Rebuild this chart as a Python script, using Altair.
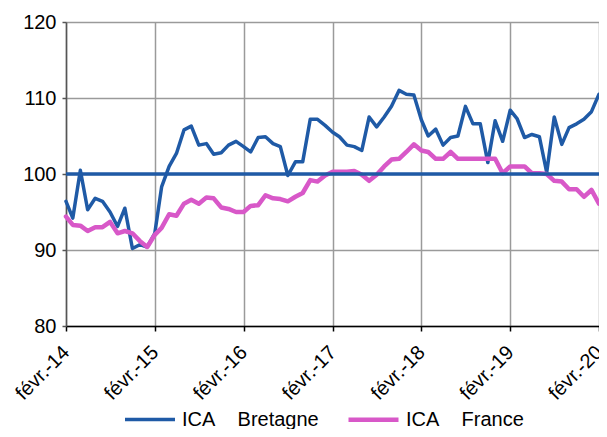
import altair as alt
import pandas as pd

# Monthly index values, Feb 2014 -> Feb 2020
start_month = "2014-02-01"
n_months = 73

bretagne = [96.4, 94.2, 100.5, 95.3, 96.8, 96.4, 95.0, 93.1, 95.5, 90.2, 90.7, 90.4,
            92.2, 98.3, 101.0, 102.7, 105.8, 106.3, 103.8, 104.0, 102.6, 102.8, 103.8, 104.3,
            103.6, 102.9, 104.8, 104.9, 104.0, 103.6, 99.8, 101.6, 101.6, 107.2, 107.2, 106.4,
            105.5, 104.9, 103.8, 103.6, 103.1, 107.5, 106.2, 107.5, 108.9, 111.0, 110.5, 110.4,
            107.1, 105.0, 105.9, 103.8, 104.8, 105.0, 108.9, 106.6, 106.6, 101.5, 107.0, 104.3,
            108.4, 107.3, 104.8, 105.2, 104.9, 100.2, 107.5, 103.9, 106.1, 106.6, 107.2, 108.2,
            110.5]
france = [94.4, 93.3, 93.2, 92.5, 93.0, 93.0, 93.7, 92.2, 92.5, 92.2, 91.2, 90.4,
          92.0, 92.9, 94.7, 94.5, 96.1, 96.6, 96.1, 96.9, 96.8, 95.6, 95.4, 95.0,
          95.0, 95.8, 95.9, 97.2, 96.8, 96.7, 96.4, 97.0, 97.5, 99.2, 99.0, 99.8,
          100.3, 100.3, 100.3, 100.4, 99.9, 99.1, 99.9, 101.0, 101.9, 102.0, 102.9, 103.9,
          103.1, 102.9, 102.0, 102.0, 102.9, 102.0, 102.0, 102.0, 102.0, 102.0, 102.0, 100.1,
          101.0, 101.0, 101.0, 100.1, 100.1, 100.0, 99.1, 99.0, 98.0, 98.0, 97.0, 97.9,
          96.1]

tick_years = [2014, 2015, 2016, 2017, 2018, 2019, 2020]
y_ticks = [80, 90, 100, 110, 120]
reference_value = 100

NB = "\u00a0"
name_b = "ICA" + NB * 4 + "Bretagne"
name_f = "ICA" + NB * 4 + "France"
series_names = [name_b, name_f]
series_colors = ["#1f5aa6", "#d858c8"]

months = pd.date_range(start_month, periods=n_months, freq="MS")
df = pd.concat([
    pd.DataFrame({"date": months, "value": bretagne, "series": name_b}),
    pd.DataFrame({"date": months, "value": france, "series": name_f}),
])

x_enc = alt.X(
    "date:T",
    scale=alt.Scale(domain=[alt.DateTime(year=2014, month=2, date=1),
                            alt.DateTime(year=2020, month=2, date=1)], nice=False),
    axis=alt.Axis(
        values=[alt.DateTime(year=y, month=2, date=1) for y in tick_years],
        labelExpr="'févr.-' + timeFormat(datum.value, '%y')",
        labelAngle=-45, labelFontSize=20, labelColor="#000", labelPadding=18,
        labelAlign="right", labelBaseline="middle", labelOverlap=False, labelBound=False,
        grid=True, gridColor="#9a9a9a", gridWidth=1.5,
        domainColor="#000", domainWidth=1.5, tickColor="#000", tickSize=5, tickWidth=1.5,
        title=None,
    ),
)
y_enc = alt.Y(
    "value:Q",
    scale=alt.Scale(domain=[80, 120], nice=False, zero=False),
    axis=alt.Axis(
        values=y_ticks, labelFontSize=20, labelColor="#000", labelPadding=6,
        grid=True, gridColor="#9a9a9a", gridWidth=1.5,
        domainColor="#555", domainWidth=1.5, tickColor="#555", tickSize=4, tickWidth=1.5,
        title=None,
    ),
)

lines = alt.Chart(df).mark_line(strokeJoin="round", strokeCap="round").encode(
    x=x_enc,
    y=y_enc,
    color=alt.Color(
        "series:N",
        scale=alt.Scale(domain=series_names, range=series_colors),
        sort=series_names,
        legend=alt.Legend(
            title=None, orient="none", direction="horizontal",
            legendX=57, legendY=370,
            symbolType="stroke", symbolSize=2500, symbolStrokeWidth=4,
            labelFontSize=20, labelColor="#000", labelOffset=5, columnPadding=20,
        ),
    ),
    strokeWidth=alt.StrokeWidth(
        "series:N", scale=alt.Scale(domain=series_names, range=[3.5, 4.5]), legend=None
    ),
    order=alt.Order("date:T"),
)

rule = alt.Chart(pd.DataFrame({"v": [reference_value]})).mark_rule(
    color="#1f5aa6", strokeWidth=3.5
).encode(y=alt.Y("v:Q"))

chart = alt.layer(lines, rule).properties(
    width=533, height=304,
    autosize="none",
    padding={"left": 58, "top": 14, "right": 0, "bottom": 103},
).configure(font="Liberation Sans").configure_view(stroke=None)

chart.save("out.html", embed_options={"renderer": "svg", "actions": False})
